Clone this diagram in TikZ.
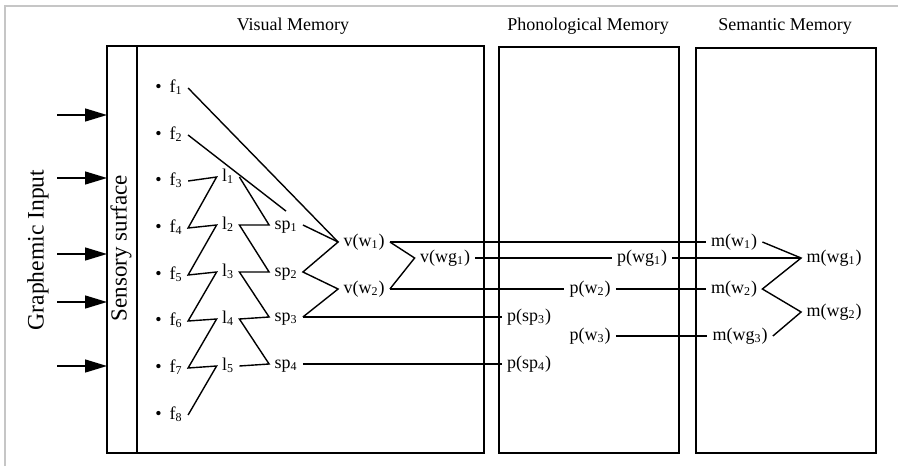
\documentclass[tikz,border=0pt]{standalone}
\usepackage{fontspec}
\setmainfont{Liberation Serif}
\usetikzlibrary{arrows.meta}
\tikzset{
  lbl/.style={font=\fontsize{9}{10}\selectfont, inner sep=2.5pt, text height=6.5pt, text depth=2pt},
  ttl/.style={font=\fontsize{9}{10}\selectfont},
  link/.style={line width=0.7pt},
  memory/.style={line width=1pt},
  feed/.style={line width=0.7pt, -{Triangle[length=11pt,width=6.5pt]}}
}
\begin{document}
\begin{tikzpicture}[x=0.5pt, y=-0.5pt]
        \useasboundingbox (0,0) rectangle (898,466);
        \draw[gray!45, line width=1pt] (5,466) -- (5,6) -- (898,6);

        %draw the memory boxes
        \draw[memory] (107,46) rectangle (484,453);
        \draw[memory] (137,46) -- (137,453);
        \draw[memory] (499,47) rectangle (679,453);
        \draw[memory] (696,48) rectangle (876,453);

        \node[ttl] (visual) at (293,26) {Visual Memory};
        \node[ttl] (phono) at (588,26) {Phonological Memory};
        \node[ttl] (seman) at (785,26) {Semantic Memory};
        \node[rotate=90, font=\fontsize{11.8}{14}\selectfont] (input) at (38,250) {Graphemic Input};
        \node[rotate=90, font=\fontsize{11.5}{14}\selectfont] (surface) at (121,248) {Sensory surface};

        %input arrows onto the sensory surface
        \foreach \y [count=\i] in {115,178,254,302,366} {
            \coordinate (in\i) at (57,\y);
            \coordinate (on\i) at (107,\y);
            \draw[feed] (in\i) -- (on\i);
        }

        %features
        \node[lbl, anchor=west] (f1) at (150,88) {\textbullet\hspace{4pt}f\textsubscript{1}};
        \node[lbl, anchor=west] (f2) at (150,135) {\textbullet\hspace{4pt}f\textsubscript{2}};
        \node[lbl, anchor=west] (f3) at (150,181) {\textbullet\hspace{4pt}f\textsubscript{3}};
        \node[lbl, anchor=west] (f4) at (150,228) {\textbullet\hspace{4pt}f\textsubscript{4}};
        \node[lbl, anchor=west] (f5) at (150,275) {\textbullet\hspace{4pt}f\textsubscript{5}};
        \node[lbl, anchor=west] (f6) at (150,321) {\textbullet\hspace{4pt}f\textsubscript{6}};
        \node[lbl, anchor=west] (f7) at (150,368) {\textbullet\hspace{4pt}f\textsubscript{7}};
        \node[lbl, anchor=west] (f8) at (150,415) {\textbullet\hspace{4pt}f\textsubscript{8}};

        %letters and spelling patterns
        \node[lbl] (l1) at (228,177) {l\textsubscript{1}};
        \node[lbl] (l2) at (228,225) {l\textsubscript{2}};
        \node[lbl] (l3) at (228,272) {l\textsubscript{3}};
        \node[lbl] (l4) at (228,319) {l\textsubscript{4}};
        \node[lbl] (l5) at (228,366) {l\textsubscript{5}};
        \node[lbl] (sp1) at (286,225) {sp\textsubscript{1}};
        \node[lbl] (sp2) at (286,272) {sp\textsubscript{2}};
        \node[lbl] (sp3) at (286,317) {sp\textsubscript{3}};
        \node[lbl] (sp4) at (286,364) {sp\textsubscript{4}};

        %visual words
        \node[lbl] (vw1) at (364,242) {v(w\textsubscript{1})};
        \node[lbl] (vw2) at (364,289) {v(w\textsubscript{2})};
        \node[lbl] (vwg1) at (445,258) {v(wg\textsubscript{1})};

        %phonological units
        \node[lbl] (psp3) at (529,317) {p(sp\textsubscript{3})};
        \node[lbl] (psp4) at (529,364) {p(sp\textsubscript{4})};
        \node[lbl] (pwg1) at (642,258) {p(wg\textsubscript{1})};
        \node[lbl] (pw2) at (590,289) {p(w\textsubscript{2})};
        \node[lbl] (pw3) at (590,336) {p(w\textsubscript{3})};

        %semantic units
        \node[lbl] (mw1) at (734,242) {m(w\textsubscript{1})};
        \node[lbl] (mw2) at (734,289) {m(w\textsubscript{2})};
        \node[lbl] (mwg3) at (740,336) {m(wg\textsubscript{3})};
        \node[lbl] (mwg1) at (834,258) {m(wg\textsubscript{1})};
        \node[lbl] (mwg2) at (834,312) {m(wg\textsubscript{2})};

        %connections
        \draw[link] (f1.east) -- (vw1.west);
        \draw[link] (f2.east) -- (sp1.north);
        \draw[link] (f3.east) -- (l1.west) -- (f4.east) -- (l2.west) -- (f5.east) -- (l3.west)
            -- (f6.east) -- (l4.west) -- (f7.east) -- (l5.west) -- (f8.east);
        \draw[link] (l1.east) -- (sp1.west) -- (l2.east) -- (sp2.west) -- (l3.east) -- (sp3.west)
            -- (l4.east) -- (sp4.west) -- (l5.east);
        \draw[link] (sp1.east) -- (vw1.west) -- (sp2.east) -- (vw2.west) -- (sp3.east);
        \draw[link] (vw1.east) -- (vwg1.west) -- (vw2.east);
        \draw[link] (vw1.east) -- (mw1.west);
        \draw[link] (vwg1.east) -- (pwg1.west);
        \draw[link] (vw2.east) -- (pw2.west);
        \draw[link] (sp3.east) -- (psp3.west);
        \draw[link] (sp4.east) -- (psp4.west);
        \draw[link] (pwg1.east) -- (mwg1.west);
        \draw[link] (pw2.east) -- (mw2.west);
        \draw[link] (pw3.east) -- (mwg3.west);
        \draw[link] (mw1.east) -- (mwg1.west) -- (mw2.east) -- (mwg2.west) -- (mwg3.east);
\end{tikzpicture}
\end{document}
